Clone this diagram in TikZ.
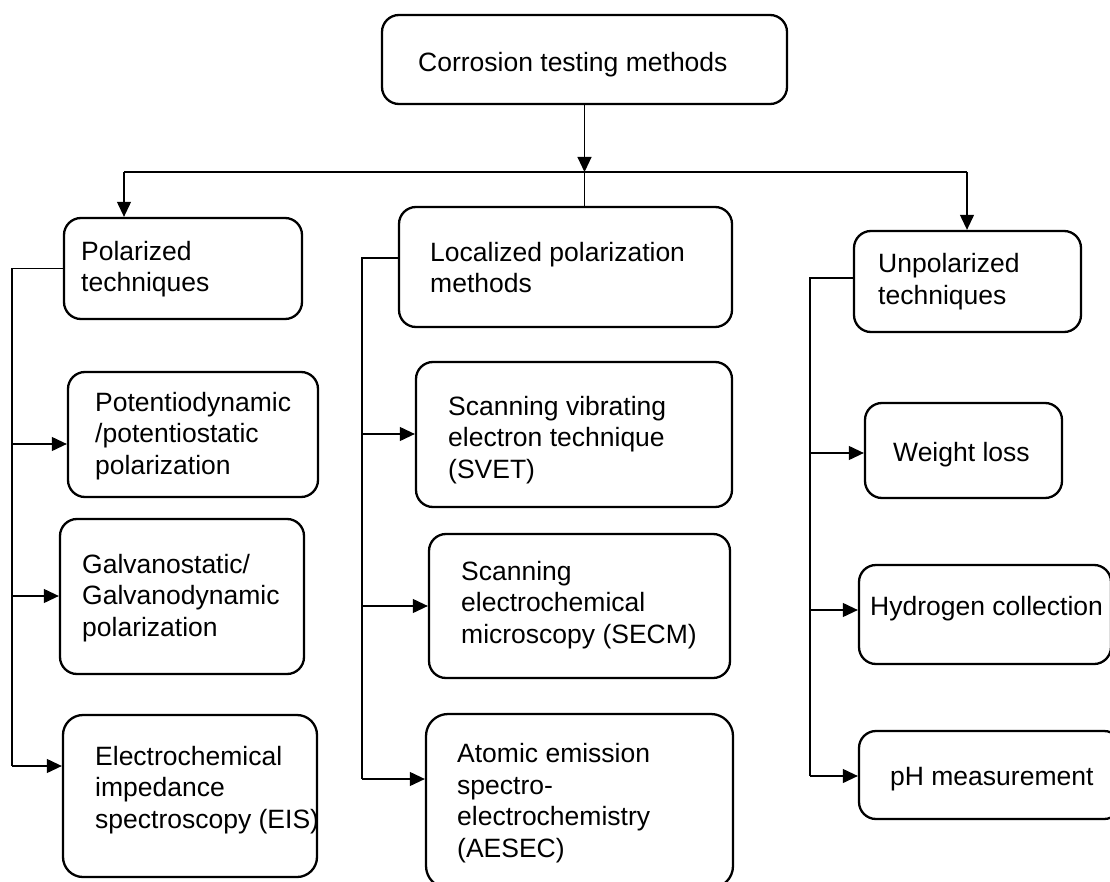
\documentclass[tikz,border=0pt]{standalone}
\usepackage{fontspec}
\setmainfont{Liberation Sans}
\usetikzlibrary{arrows.meta}
\begin{document}
\begin{tikzpicture}[x=1pt,y=-1pt,
  box/.style={draw, line width=2.3pt, rounded corners=17pt, inner sep=0pt},
  conn/.style={line width=1.1pt},
  arr/.style={line width=1.1pt, -{Triangle[length=15pt,width=14pt]}},
  lbl/.style={anchor=base west, inner sep=0pt, align=left, font=\fontsize{26.5}{31.5}\selectfont}]
\useasboundingbox (0,0) rectangle (1110,882);
\clip (0,0) rectangle (1110,882);
% boxes
\node[box, minimum width=405pt, minimum height=89pt]  (top)   at (584.5,59.5) {};
\node[box, minimum width=238pt, minimum height=101pt] (pol)   at (183,268.5) {};
\node[box, minimum width=333pt, minimum height=120pt] (loc)   at (565.5,267) {};
\node[box, minimum width=227pt, minimum height=101pt] (unp)   at (967.5,281.5) {};
\node[box, minimum width=250pt, minimum height=125pt] (pot)   at (193,434.5) {};
\node[box, minimum width=244pt, minimum height=155pt] (gal)   at (182,596.5) {};
\node[box, minimum width=254pt, minimum height=162pt, rounded corners=20pt] (eis)   at (190,796) {};
\node[box, minimum width=316pt, minimum height=145pt] (svet)  at (574,434.5) {};
\node[box, minimum width=301pt, minimum height=144pt] (secm)  at (579.5,606) {};
\node[box, minimum width=307pt, minimum height=174pt, rounded corners=22pt] (aesec) at (579.5,801) {};
\node[box, minimum width=197pt, minimum height=95pt]  (wl)    at (963.5,450.5) {};
\node[box, minimum width=252pt, minimum height=99pt]  (hyd)   at (985,614.5) {};
\node[box, minimum width=262pt, minimum height=88pt]  (ph)    at (990,775) {};
% labels (anchor at the baseline of the last line)
\node[lbl] (topT) at (418,72) {Corrosion testing methods};
\node[lbl] (polT) at (81,292) {Polarized\\techniques};
\node[lbl] (locT) at (430,293) {Localized polarization\\methods};
\node[lbl] (unpT) at (878,304.5) {Unpolarized\\techniques};
\node[lbl] (potT) at (95,474) {Potentiodynamic\\/potentiostatic\\polarization};
\node[lbl] (galT) at (82,636) {Galvanostatic/\\Galvanodynamic\\polarization};
\node[lbl] (eisT) at (95,828) {Electrochemical\\impedance\\spectroscopy (EIS)};
\node[lbl] (svetT) at (448,478) {Scanning vibrating\\electron technique\\(SVET)};
\node[lbl] (secmT) at (461,643) {Scanning\\electrochemical\\microscopy (SECM)};
\node[lbl] (aesecT) at (457,857) {Atomic emission\\spectro-\\electrochemistry\\(AESEC)};
\node[lbl] (wlT) at (893,461) {Weight loss};
\node[lbl] (hydT) at (870,615) {Hydrogen collection};
\node[lbl] (phT) at (890,785) {pH measurement};
% top distribution
\coordinate (jc) at (584.5,172);
\coordinate (jl) at (124,172);
\coordinate (jr) at (967,172);
\draw[arr] (top.south) -- (jc);
\draw[conn] (jl) -- (jr);
\draw[conn] (jc) -- (jc |- loc.north);
\draw[arr] (jl) -- (jl |- pol.north);
\draw[arr] (jr) -- (jr |- unp.north);
% left trunk
\coordinate (lt) at (12,268.5);
\coordinate (l1) at (12,444);
\coordinate (l2) at (12,596);
\coordinate (l3) at (12,766);
\draw[conn] (pol.west) -- (lt) -- (l3);
\draw[arr] (l1) -- (l1 -| pot.west);
\draw[arr] (l2) -- (l2 -| gal.west);
\draw[arr] (l3) -- (l3 -| eis.west);
% middle trunk
\coordinate (mt) at (362,258);
\coordinate (m1) at (362,434);
\coordinate (m2) at (362,606);
\coordinate (m3) at (362,779);
\draw[conn] (mt -| loc.west) -- (mt) -- (m3);
\draw[arr] (m1) -- (m1 -| svet.west);
\draw[arr] (m2) -- (m2 -| secm.west);
\draw[arr] (m3) -- (m3 -| aesec.west);
% right trunk
\coordinate (rt) at (810,278);
\coordinate (r1) at (810,453);
\coordinate (r2) at (810,610);
\coordinate (r3) at (810,776);
\draw[conn] (rt -| unp.west) -- (rt) -- (r3);
\draw[arr] (r1) -- (r1 -| wl.west);
\draw[arr] (r2) -- (r2 -| hyd.west);
\draw[arr] (r3) -- (r3 -| ph.west);
\end{tikzpicture}
\end{document}
